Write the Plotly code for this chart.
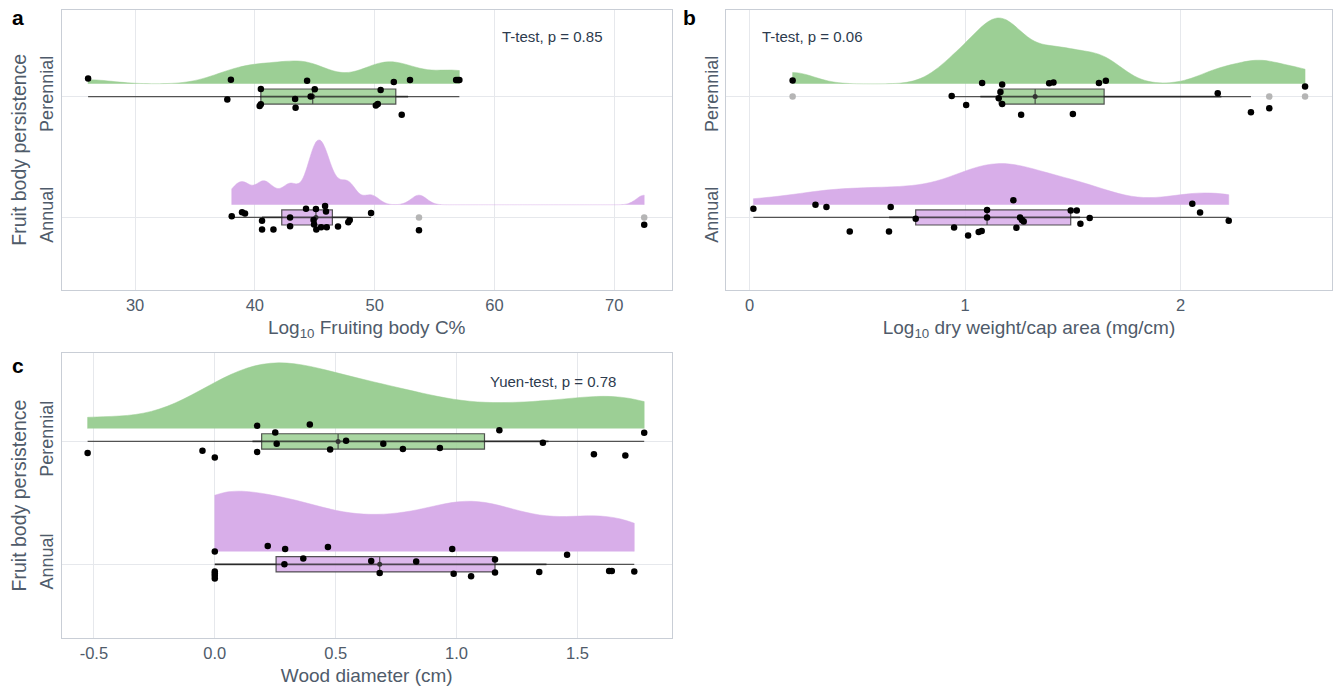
import numpy as np
import plotly.graph_objects as go

# ---------------- data ----------------
cat_labels = ["Annual", "Perennial"]

# panel a: Log10 Fruiting body C%
a_per = [26.08, 37.7, 38.0, 40.4, 40.5, 40.5, 43.36, 43.4, 44.36, 44.66, 45.0,
         50.1, 50.26, 50.5, 51.6, 52.26, 52.95, 56.8, 56.94, 57.07]
a_per_jit = [0.15, -0.025, 0.138, -0.078, -0.064, 0.063, -0.02, -0.092, 0.13, 0.0, 0.06,
             -0.073, -0.062, 0.055, 0.12, -0.15, 0.136, 0.136, 0.136, 0.136]
a_ann = [38.07, 38.93, 39.18, 40.6, 40.6, 41.55, 42.94, 42.94, 44.27, 44.9, 44.94, 45.1,
         45.13, 45.53, 45.86, 45.94, 46.0, 46.94, 47.8, 47.92, 49.7, 53.7, 72.5]
a_ann_jit = [0.01, 0.044, 0.033, -0.028, -0.10, -0.10, 0.0, -0.073, 0.072, -0.022, -0.058, 0.07,
             -0.10, -0.08, 0.094, 0.05, -0.08, -0.075, -0.04, -0.022, 0.036, -0.106, -0.06]

# panel b: Log10 dry weight/cap area
b_per = [0.2, 0.938, 1.005, 1.079, 1.156, 1.164, 1.172, 1.172, 1.26, 1.39, 1.41, 1.5,
         1.621, 1.653, 2.172, 2.326, 2.411, 2.577]
b_per_jit = [0.133, 0.005, -0.07, 0.113, -0.014, 0.038, 0.10, -0.062, -0.15, 0.11, 0.117, -0.145,
             0.113, 0.13, 0.027, -0.13, -0.097, 0.083]
b_ann = [0.018, 0.306, 0.357, 0.465, 0.647, 0.655, 0.771, 0.949, 1.014, 1.063, 1.077, 1.102,
         1.102, 1.224, 1.238, 1.255, 1.264, 1.272, 1.49, 1.518, 1.535, 1.578, 2.054, 2.09, 2.223]
b_ann_jit = [0.072, 0.105, 0.086, -0.117, -0.117, 0.086, -0.01, -0.083, -0.15, -0.12, -0.113, 0.062,
             0.0, 0.142, -0.086, 0.0, -0.02, -0.033, 0.058, 0.058, -0.053, -0.005, 0.114, 0.042, -0.028]

# panel c: Wood diameter (cm)
c_per = [-0.526, -0.051, 0.0, 0.175, 0.175, 0.25, 0.256, 0.393, 0.477, 0.543, 0.697, 0.778,
         0.931, 1.177, 1.357, 1.568, 1.698, 1.776]
c_per_jit = [-0.094, -0.075, -0.13, 0.127, -0.086, 0.073, -0.019, 0.137, -0.065, 0.006, -0.019, -0.062,
             -0.054, 0.092, -0.01, -0.105, -0.115, 0.07]
c_ann = [0.0, 0.0, 0.0, 0.0, 0.0, 0.219, 0.288, 0.291, 0.366, 0.468, 0.647, 0.682, 0.833,
         0.982, 0.988, 1.06, 1.159, 1.159, 1.342, 1.457, 1.631, 1.642, 1.735]
c_ann_jit = [0.105, -0.059, -0.094, -0.115, -0.075, 0.148, 0.0, 0.124, 0.048, 0.14, 0.027, -0.07, 0.022,
             0.124, -0.078, -0.097, 0.038, -0.067, -0.062, 0.078, -0.054, -0.054, -0.059]

tests = ["T-test, p = 0.85", "T-test, p = 0.06", "Yuen-test, p = 0.78"]
x_titles = ["Log<sub>10</sub> Fruiting body C%", "Log<sub>10</sub> dry weight/cap area (mg/cm)",
            "Wood diameter (cm)"]
c_ticks = [-0.5, 0.0, 0.5, 1.0, 1.5]
c_ticktext = ["-0.5", "0.0", "0.5", "1.0", "1.5"]

# ---------------- styling ----------------
W, H = 1342, 690
GREEN = "#9ccf95"
PURPLE = "#d8aee9"
GREEN_BOX = "rgba(160,210,152,0.9)"
PURPLE_BOX = "rgba(217,176,234,0.9)"
TXT = "#4f5b6a"
FONT = "Liberation Sans, Arial, sans-serif"
VOFF = 0.105

fig = go.Figure()


def add_group(vals, jit, pos, color, boxfill, vwidth, bw, xa, ya):
    vals = np.asarray(vals, dtype=float)
    # half-violin (density) above the category line
    fig.add_trace(go.Violin(
        x=vals, y0=pos + VOFF, orientation="h", side="positive", width=vwidth,
        spanmode="hard", bandwidth=bw, points=False, scalemode="width",
        fillcolor=color, line=dict(color=color, width=0.5), opacity=1,
        box_visible=False, meanline_visible=False, hoverinfo="skip",
        xaxis=xa, yaxis=ya, showlegend=False))
    # Tukey boxplot statistics (type-7 quantiles)
    q1, med, q3 = np.quantile(vals, [0.25, 0.5, 0.75])
    iqr = q3 - q1
    lo_f, hi_f = q1 - 1.5 * iqr, q3 + 1.5 * iqr
    inside = vals[(vals >= lo_f) & (vals <= hi_f)]
    outl = vals[(vals < lo_f) | (vals > hi_f)]
    fig.add_trace(go.Box(
        y=[pos], orientation="h", q1=[q1], median=[med], q3=[q3],
        lowerfence=[inside.min()], upperfence=[inside.max()],
        width=0.125, whiskerwidth=0, boxpoints=False,
        fillcolor=boxfill, line=dict(color="rgba(55,55,55,0.85)", width=1.2),
        hoverinfo="skip", xaxis=xa, yaxis=ya, showlegend=False))
    if len(outl):
        fig.add_trace(go.Scatter(
            x=outl, y=[pos] * len(outl), mode="markers",
            marker=dict(color="#b5b5b5", size=6.5, line=dict(width=0)),
            hoverinfo="skip", xaxis=xa, yaxis=ya, showlegend=False))
    q = np.quantile(vals, [0.17, 0.83])
    fig.add_trace(go.Scatter(
        x=q, y=[pos, pos], mode="lines", line=dict(color="rgba(30,30,30,0.75)", width=1.8),
        hoverinfo="skip", xaxis=xa, yaxis=ya, showlegend=False))
    fig.add_trace(go.Scatter(
        x=[med], y=[pos], mode="markers", marker=dict(color="#333333", size=5),
        hoverinfo="skip", xaxis=xa, yaxis=ya, showlegend=False))
    fig.add_trace(go.Scatter(
        x=vals, y=pos + np.asarray(jit), mode="markers",
        marker=dict(color="black", size=6.5, line=dict(width=0)),
        hoverinfo="skip", xaxis=xa, yaxis=ya, showlegend=False))


add_group(a_per, a_per_jit, 1, GREEN, GREEN_BOX, 0.38, 2.0, "x", "y")
add_group(a_ann, a_ann_jit, 0, PURPLE, PURPLE_BOX, 1.07, 0.65, "x", "y")
add_group(b_per, b_per_jit, 1, GREEN, GREEN_BOX, 1.09, 0.1, "x2", "y2")
add_group(b_ann, b_ann_jit, 0, PURPLE, PURPLE_BOX, 0.68, 0.17, "x2", "y2")
add_group(c_per, c_per_jit, 1, GREEN, GREEN_BOX, 1.07, 0.2, "x3", "y3")
add_group(c_ann, c_ann_jit, 0, PURPLE, PURPLE_BOX, 0.98, 0.17, "x3", "y3")


def px_x(p):
    return p / W


def px_y(p):
    return 1 - p / H


axis_common = dict(showline=True, mirror=True, linecolor="#c9ced6", linewidth=1,
                   showgrid=True, gridcolor="#e6e8ec", gridwidth=1, zeroline=False,
                   ticks="", tickfont=dict(size=16.5, color=TXT, family=FONT))

dom_a_x = [px_x(61.5), px_x(672)]
dom_b_x = [px_x(726), px_x(1332)]
dom_top_y = [px_y(290), px_y(9.5)]
dom_c_y = [px_y(638), px_y(353)]

xt_font = dict(size=19, color=TXT, family=FONT)
xa = dict(axis_common, domain=dom_a_x, anchor="y", range=[23.86, 74.82], dtick=10,
          title=dict(text=x_titles[0], font=xt_font, standoff=7))
xb = dict(axis_common, domain=dom_b_x, anchor="y2", range=[-0.109, 2.702], dtick=1,
          title=dict(text=x_titles[1], font=xt_font, standoff=7))
xc = dict(axis_common, domain=dom_a_x, anchor="y3", range=[-0.634, 1.891],
          tickvals=c_ticks, ticktext=c_ticktext,
          title=dict(text=x_titles[2], font=xt_font, standoff=7))

ycommon = dict(axis_common, type="linear", range=[-0.6, 1.72], tickvals=[0, 1],
               ticktext=cat_labels, tickangle=-90,
               tickfont=dict(size=18, color=TXT, family=FONT))
yt_font = dict(size=19.5, color=TXT, family=FONT)
ya = dict(ycommon, domain=dom_top_y, anchor="x",
          title=dict(text="Fruit body persistence", font=yt_font, standoff=5))
yb = dict(ycommon, domain=dom_top_y, anchor="x2")
yc = dict(ycommon, domain=dom_c_y, anchor="x3",
          title=dict(text="Fruit body persistence", font=yt_font, standoff=5))

annotations = []
for (t, x, y) in zip(tests, [552, 812, 553], [37, 37, 381]):
    annotations.append(dict(text=t, x=px_x(x), y=px_y(y), xref="paper", yref="paper",
                            xanchor="center", yanchor="middle", showarrow=False,
                            font=dict(size=15, color="#2d3b4e", family=FONT)))
for (t, x, y) in zip(["a", "b", "c"], [18, 689, 18], [17, 17, 365]):
    annotations.append(dict(text="<b>%s</b>" % t, x=px_x(x), y=px_y(y), xref="paper", yref="paper",
                            xanchor="center", yanchor="middle", showarrow=False,
                            font=dict(size=21, color="black", family=FONT)))

fig.update_layout(
    width=W, height=H, margin=dict(l=0, r=0, t=0, b=0),
    paper_bgcolor="white", plot_bgcolor="white",
    xaxis=xa, yaxis=ya, xaxis2=xb, yaxis2=yb, xaxis3=xc, yaxis3=yc,
    boxmode="overlay", violinmode="overlay", showlegend=False,
    annotations=annotations, font=dict(family=FONT, color=TXT),
)

fig.write_html("out.html")
